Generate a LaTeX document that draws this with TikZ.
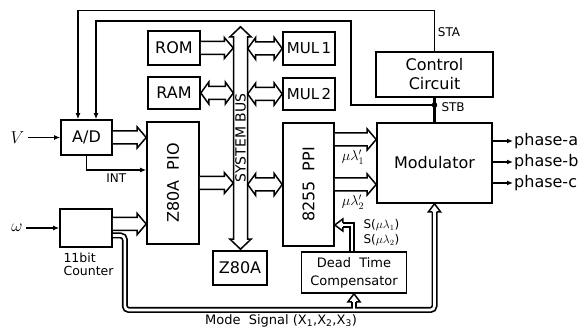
\documentclass[tikz,border=0pt]{standalone}
\usepackage{fontspec}
\setmainfont{DejaVu Sans}
\usetikzlibrary{arrows.meta,calc}

% hollow block arrow, one head, pointing right, at the height of #1
\newcommand{\fatarrow}[2]{%
  \draw[fat] let \p1=#1, \p2=#2 in
    (\x1,\y1+6.5pt) -- (\x2-9pt,\y1+6.5pt) -- (\x2-9pt,\y1+10.5pt) -- (\x2,\y1)
    -- (\x2-9pt,\y1-10.5pt) -- (\x2-9pt,\y1-6.5pt) -- (\x1,\y1-6.5pt);}
% hollow block arrow, two heads, at the height of #1
\newcommand{\fatdarrow}[2]{%
  \draw[fat] let \p1=#1, \p2=#2 in
    (\x1,\y1) -- (\x1+8pt,\y1+11pt) -- (\x1+8pt,\y1+6.5pt) -- (\x2-8pt,\y1+6.5pt)
    -- (\x2-8pt,\y1+11pt) -- (\x2,\y1) -- (\x2-8pt,\y1-11pt) -- (\x2-8pt,\y1-6.5pt)
    -- (\x1+8pt,\y1-6.5pt) -- (\x1+8pt,\y1-11pt) -- cycle;}

\begin{document}
\begin{tikzpicture}[x=1pt, y=-1pt,
  blk/.style={draw, line width=1.6pt, inner sep=0pt, align=center,
    font=\fontsize{16}{19}\selectfont},
  fat/.style={draw, fill=white, line width=1.5pt, line join=miter},
  sig/.style={line width=1.3pt, -{Latex[length=6pt,width=5pt]}},
  lbl/.style={font=\fontsize{12}{15}\selectfont},
  busout/.style={line width=6pt},
  busin/.style={line width=2.6pt, white}]
  \useasboundingbox (0,0) rectangle (587,331);

  % Boxes
  \node[blk, minimum width=51, minimum height=35] (ad) at (86.5,137.5) {A/D};
  \node[blk, minimum width=52, minimum height=38] (cnt) at (86,228) {};
  \node[blk, minimum width=52, minimum height=34] (rom) at (174,48) {ROM};
  \node[blk, minimum width=52, minimum height=32] (ram) at (174,93) {RAM};
  \node[blk, minimum width=52, minimum height=122] (pio) at (173,183)
    {\rotatebox{90}{Z80A~~PIO}};
  \node[blk, minimum width=54, minimum height=34] (cpu) at (240,268) {Z80A};
  \node[blk, minimum width=52, minimum height=33, font=\fontsize{15}{18}\selectfont]
    (mul1) at (309,48.5) {MUL\,1};
  \node[blk, minimum width=52, minimum height=32, font=\fontsize{15}{18}\selectfont]
    (mul2) at (309,94) {MUL\,2};
  \node[blk, minimum width=51, minimum height=123] (ppi) at (308.5,184.5)
    {\rotatebox{90}{8255~~PPI}};
  \node[blk, minimum width=117, minimum height=45] (ctl) at (434.5,74.5)
    {Control\\Circuit};
  \node[blk, minimum width=115, minimum height=80] (mod) at (434.5,163) {Modulator};
  \node[blk, minimum width=105, minimum height=41, font=\fontsize{13}{18}\selectfont]
    (dtc) at (354,272.5) {Dead~~Time\\Compensator};

  % System bus
  \node[minimum width=14, minimum height=222, inner sep=0pt] (bus) at (240.5,138) {};
  \draw[fat] let \p1=(bus.north), \p2=(bus.south) in
    (\x1,\y1) -- (\x1+10.5pt,\y1-10pt) -- (\x1+7pt,\y1-10pt) -- (\x1+7pt,\y2+10pt)
    -- (\x1+10.5pt,\y2+10pt) -- (\x1,\y2) -- (\x1-10.5pt,\y2+10pt) -- (\x1-7pt,\y2+10pt)
    -- (\x1-7pt,\y1-10pt) -- (\x1-10.5pt,\y1-10pt) -- cycle;
  \node[rotate=90, font=\fontsize{14}{16}\selectfont, inner sep=0pt] at (bus) {SYSTEM BUS};

  % Block arrows to and from the bus
  \fatarrow{(rom.east)}{(bus.west |- rom)}
  \fatdarrow{(ram.east)}{(bus.west |- ram)}
  \fatarrow{(pio.east)}{(bus.west |- pio)}
  \fatdarrow{(bus.east |- mul1)}{(mul1.west)}
  \fatdarrow{(bus.east |- mul2)}{(mul2.west)}
  \fatdarrow{(bus.east |- ppi)}{(ppi.west)}

  % Inputs
  \fatarrow{(ad.east)}{(pio.west)}
  \fatarrow{([yshift=4pt]cnt.east)}{(pio.west)}
  \node[font=\fontsize{17}{19}\selectfont] (v) at (17.5,137.5) {$V$};
  \draw[sig] (v) -- (ad);
  \node[font=\fontsize{17}{19}\selectfont] (w) at (17,228) {$\omega$};
  \draw[sig] (w) -- (cnt);
  \draw[sig] (ad.south) |- node[pos=0.75, below, lbl] {INT} ([yshift=13pt]pio.west);
  \node[lbl, align=left, anchor=north west, font=\fontsize{12.5}{13.5}\selectfont]
    at (60,249) {11bit\\Counter};

  % STA and STB lines
  \coordinate (stb) at (434.5,105);
  \draw[line width=2.2pt] (ctl.south) -- (mod.north);
  \fill (stb) circle (2.8pt);
  \draw[sig] (ctl.north) -- ++(0,-41) -| ([xshift=-8.5pt]ad.north);
  \draw[sig] (stb) -- ++(-83.5,0) -- ++(0,-84) -| ([xshift=9.5pt]ad.north);
  \node[lbl] at (449,32) {STA};
  \node[lbl, anchor=west] at (438,107) {STB};

  % PPI to modulator
  \fatarrow{([yshift=45pt]ppi.east)}{(mod.west)}
  \fatarrow{(ppi.east)}{(mod.west)}
  \node[font=\fontsize{14}{16}\selectfont] at (353,157) {$\mu\lambda'_1$};
  \node[font=\fontsize{14}{16}\selectfont] at (353,202) {$\mu\lambda'_2$};
  \node[lbl, align=left, anchor=north west] at (360,216)
    {S($\mu\lambda_1$)\\S($\mu\lambda_2$)};

  % Outputs
  \node[font=\fontsize{16}{18}\selectfont, anchor=west, inner sep=1pt] (pa) at (513,141) {phase-a};
  \node[font=\fontsize{16}{18}\selectfont, anchor=west, inner sep=1pt] (pb) at (513,162) {phase-b};
  \node[font=\fontsize{16}{18}\selectfont, anchor=west, inner sep=1pt] (pc) at (513,183) {phase-c};
  \draw[sig] (mod.east |- pa) -- (pa.west);
  \draw[sig] (mod.east |- pb) -- (pb.west);
  \draw[sig] (mod.east |- pc) -- (pc.west);

  % Mode signal and S lines (hollow)
  \coordinate (mode) at (281,310);
  \draw[busout, rounded corners=4pt] ([yshift=-7.5pt]cnt.east) -- ++(12,0) -- ++(0,74.5)
    -| ([yshift=-8pt]mod.south);
  \draw[busout] (dtc.south |- mode) -- ([yshift=-8pt]dtc.south);
  \draw[busout] ([xshift=-2pt]dtc.north) |- ([xshift=8pt, yshift=-40.5pt]ppi.east);
  \draw[busin, rounded corners=4pt] ([yshift=-7.5pt]cnt.east) -- ++(12,0) -- ++(0,74.5)
    -| ([yshift=-8pt]mod.south);
  \draw[busin] (dtc.south |- mode) -- ([yshift=-8pt]dtc.south);
  \draw[busin] ([xshift=-2pt]dtc.north) |- ([xshift=8pt, yshift=-40.5pt]ppi.east);
  \draw[fat] let \p1=(mod.south) in (\x1-2.2pt,\y1-8pt) -- (\x1-6pt,\y1-8pt) -- (\x1,\y1)
    -- (\x1+6pt,\y1-8pt) -- (\x1+2.2pt,\y1-8pt);
  \draw[fat] let \p1=(dtc.south) in (\x1-2.2pt,\y1-8pt) -- (\x1-6pt,\y1-8pt) -- (\x1,\y1)
    -- (\x1+6pt,\y1-8pt) -- (\x1+2.2pt,\y1-8pt);
  \draw[fat] let \p1=([yshift=-40.5pt]ppi.east) in (\x1+8pt,\y1+2.2pt) -- (\x1+8pt,\y1+6pt)
    -- (\x1,\y1) -- (\x1+8pt,\y1-6pt) -- (\x1+8pt,\y1-2.2pt);
  \node[below, font=\fontsize{13}{15}\selectfont, inner sep=4pt] at (mode)
    {Mode~~Signal (X\textsubscript{1},X\textsubscript{2},X\textsubscript{3})};
\end{tikzpicture}
\end{document}
